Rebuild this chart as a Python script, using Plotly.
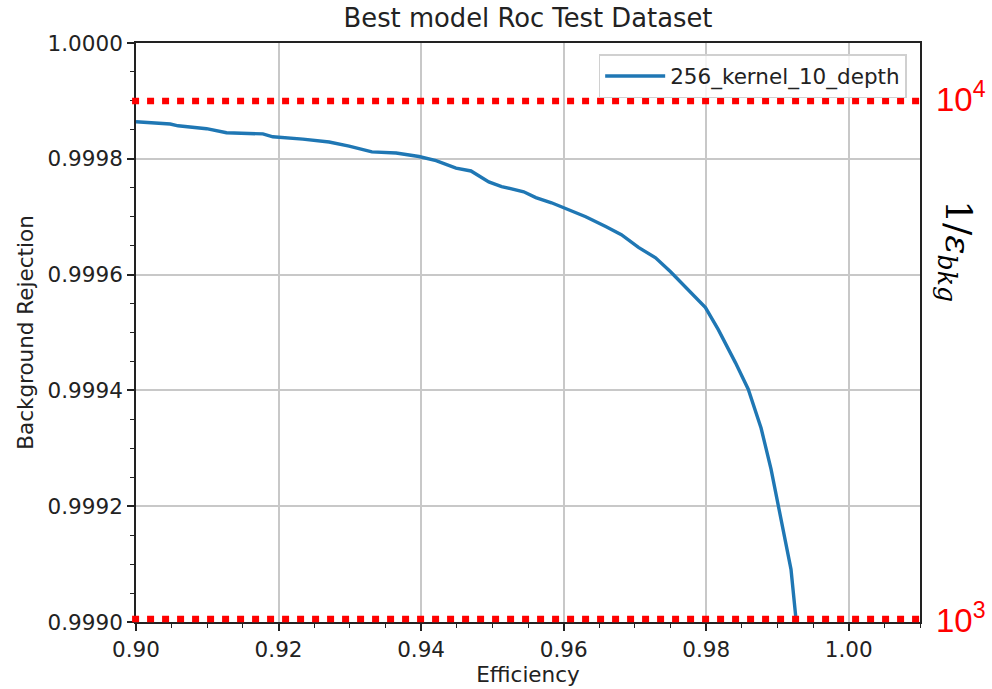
import plotly.graph_objects as go

# ROC curve of the best model on the test dataset
efficiency = [
    0.9000, 0.9048, 0.9059, 0.9099, 0.9127, 0.9178, 0.9192, 0.9234, 0.9271, 0.9299,
    0.9331, 0.9365, 0.9397, 0.9421, 0.9449, 0.9470, 0.9495, 0.9513, 0.9544, 0.9561,
    0.9583, 0.9597, 0.9631, 0.9659, 0.9681, 0.9705, 0.9729, 0.9750, 0.9775, 0.9799,
    0.9817, 0.9841, 0.9859, 0.9877, 0.9891, 0.9901, 0.9910, 0.9919, 0.9926, 0.9927,
]
background_rejection = [
    0.999864, 0.999860, 0.999857, 0.999852, 0.999845, 0.999843, 0.999838, 0.999834, 0.999829, 0.999822,
    0.999812, 0.999810, 0.999804, 0.999797, 0.999784, 0.999779, 0.999760, 0.999752, 0.999743, 0.999733,
    0.999724, 0.999717, 0.999700, 0.999683, 0.999669, 0.999647, 0.999629, 0.999605, 0.999574, 0.999543,
    0.999505, 0.999448, 0.999402, 0.999335, 0.999264, 0.999200, 0.999143, 0.999091, 0.999005, 0.998990,
]
series_name = "256_kernel_10_depth"

# reference levels of 1/eps_bkg, drawn as rejection = 1 - 1/level
inv_bkg_levels = [1e4, 1e3]
inv_bkg_labels = ["10<sup>4</sup>", "10<sup>3</sup>"]

x_range = [0.90, 1.01]
y_range = [0.9990, 1.0000]

FONT = "DejaVu Sans"
TXT = "#222222"

fig = go.Figure()
fig.add_trace(go.Scatter(
    x=efficiency, y=background_rejection, mode="lines", name=series_name,
    line=dict(color="#1f77b4", width=3.4), showlegend=True,
))

for level, label in zip(inv_bkg_levels, inv_bkg_labels):
    rej = 1 - 1 / level
    # paper-referenced so the dots are not clipped at the axis edge
    frac = (rej - y_range[0]) / (y_range[1] - y_range[0])
    lift = 3 if frac <= 0 else 0
    fig.add_shape(type="line", xref="paper", yref="paper", ysizemode="pixel",
                  yanchor=frac, x0=-0.005, x1=1.006, y0=lift, y1=lift, layer="above",
                  line=dict(color="#ff0000", width=6.5, dash="7px,8px"))
    fig.add_annotation(xref="paper", yref="y", x=1.018, y=rej, text=label,
                       showarrow=False, xanchor="left", yanchor="middle", yshift=4,
                       font=dict(family="Liberation Sans", size=33, color="#ff0000"))

fig.add_annotation(xref="paper", yref="paper", x=1.045, y=0.64,
                   text="1/<i>ε<sub>bkg</sub></i>", textangle=90, showarrow=False,
                   xanchor="center", yanchor="middle",
                   font=dict(family="DejaVu Serif", size=36, color="#000000"))

axis_common = dict(
    showline=True, linecolor=TXT, linewidth=1.7, mirror=True,
    showgrid=True, gridcolor="#c8c8c8", gridwidth=1.5,
    ticks="outside", ticklen=7, tickwidth=1.7, tickcolor=TXT,
    tickfont=dict(family=FONT, size=21.5, color=TXT),
    zeroline=False, automargin=False,
)

fig.update_layout(
    width=992, height=689,
    margin=dict(l=136, r=72, t=43, b=67),
    paper_bgcolor="white", plot_bgcolor="white",
    title=dict(text="Best model Roc Test Dataset", x=0.5, xref="paper",
               y=1 - 18 / 689, yref="container", yanchor="middle",
               font=dict(family=FONT, size=25.8, color=TXT)),
    xaxis=dict(range=x_range, dtick=0.02, tick0=0.90, tickformat=".2f",
               title=dict(text="Efficiency", font=dict(family=FONT, size=21.5, color=TXT), standoff=6),
               minor=dict(dtick=0.005, tick0=0.90, ticks="outside", ticklen=4,
                          tickwidth=1.3, tickcolor=TXT, showgrid=False),
               **axis_common),
    yaxis=dict(range=y_range, dtick=0.0002, tick0=0.9990, tickformat=".4f",
               title=dict(text="Background Rejection", font=dict(family=FONT, size=21.5, color=TXT), standoff=8),
               minor=dict(dtick=0.00005, tick0=0.9990, ticks="outside", ticklen=4,
                          tickwidth=1.3, tickcolor=TXT, showgrid=False),
               **axis_common),
    legend=dict(x=0.983, y=0.981, xanchor="right", yanchor="top", itemwidth=60,
                bgcolor="rgba(255,255,255,0.8)", bordercolor="#d0d0d0", borderwidth=1.5,
                font=dict(family=FONT, size=21.5, color=TXT)),
)

fig.write_html("out.html")
